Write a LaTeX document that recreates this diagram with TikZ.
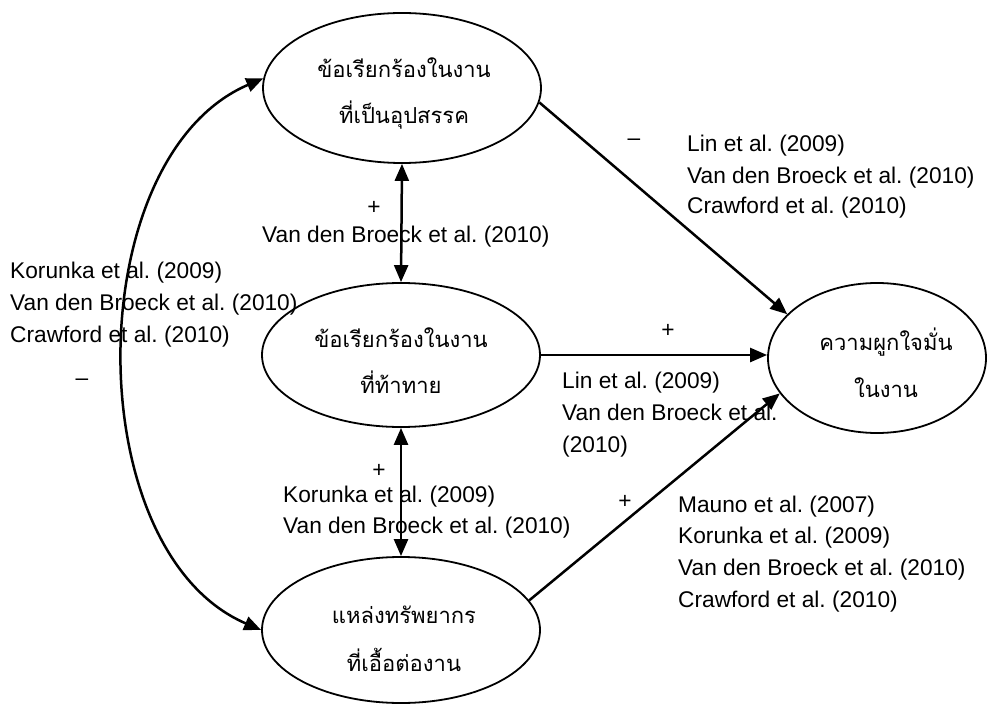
\documentclass[tikz,border=0pt]{standalone}
\usepackage{fontspec}
\setmainfont{Liberation Sans}
\newfontfamily\thaifont[Script=Thai]{Loma}
\usetikzlibrary{arrows.meta,shapes.geometric}
\frenchspacing
\tikzset{
  ell/.style={draw, ellipse, line width=1.8pt, inner sep=0pt},
  thai/.style={anchor=base, inner sep=0pt, font=\thaifont\fontsize{22}{26}\selectfont},
  lab/.style={anchor=base west, inner sep=0pt, font=\fontsize{22.7}{27}\selectfont},
  sign/.style={inner sep=0pt, font=\fontsize{22.7}{27}\selectfont},
  arr/.style={line width=2.5pt, -{Triangle[length=17pt,width=14pt]}},
  darr/.style={line width=2.5pt, {Triangle[length=17pt,width=14pt]}-{Triangle[length=17pt,width=14pt]}}
}
\begin{document}
\begin{tikzpicture}[x=1pt,y=-1pt]
\useasboundingbox (0,0) rectangle (988,706);
% ellipses
\node[ell, minimum width=278pt, minimum height=150pt] (top) at (402,88) {};
\node[ell, minimum width=278pt, minimum height=144pt] (mid) at (401,355) {};
\node[ell, minimum width=278pt, minimum height=146pt] (bot) at (401,630) {};
\node[ell, minimum width=218pt, minimum height=150pt] (eng) at (877,358) {};
% thai texts
\node[thai] (topA) at (404,78) {ข้อเรียกร้องในงาน};
\node[thai] (topB) at (404,124) {ที่เป็นอุปสรรค};
\node[thai] (midA) at (401,347) {ข้อเรียกร้องในงาน};
\node[thai] (midB) at (401,393) {ที่ท้าทาย};
\node[thai] (botA) at (404,623) {แหล่งทรัพยากร};
\node[thai] (botB) at (404,671) {ที่เอื้อต่องาน};
\node[thai] (engA) at (886,350) {ความผูกใจมั่น};
\node[thai] (engB) at (886,397) {ในงาน};
% connectors
\draw[arr] (top.-6) -- (eng.154);
\draw[arr] (mid.east) -- (eng.west |- mid.east);
\draw[arr] (bot.13) -- (eng.200);
\draw[darr] (top.south) -- (mid.north);
\draw[darr] (mid.south) -- (bot.north);
\draw[darr] (top.176) .. controls +(-184,79) and +(-184,-79) .. (bot.west);
% labels top-right
\node[sign] (s1) at (634,142) {–};
\node[lab] (l1a) at (687,152) {Lin et al. (2009)};
\node[lab] (l1b) at (687,183) {Van den Broeck et al. (2010)};
\node[lab] (l1c) at (687,213) {Crawford et al. (2010)};
% labels top-middle
\node[sign] (s2) at (374,208) {+};
\node[lab] (l2a) at (262,242) {Van den Broeck et al. (2010)};
% labels left
\node[lab] (l3a) at (10,278) {Korunka et al. (2009)};
\node[lab] (l3b) at (10,310) {Van den Broeck et al. (2010)};
\node[lab] (l3c) at (10,342) {Crawford et al. (2010)};
\node[sign] (s3) at (82,382) {–};
% labels middle-right
\node[sign] (s4) at (668,331) {+};
\node[lab] (l4a) at (562,388) {Lin et al. (2009)};
\node[lab] (l4b) at (562,420) {Van den Broeck et al.};
\node[lab] (l4c) at (562,452) {(2010)};
% labels bottom-middle
\node[sign] (s5) at (379,471) {+};
\node[lab] (l5a) at (283,502) {Korunka et al. (2009)};
\node[lab] (l5b) at (283,533) {Van den Broeck et al. (2010)};
% labels bottom-right
\node[sign] (s6) at (625,502) {+};
\node[lab] (l6a) at (678,512) {Mauno et al. (2007)};
\node[lab] (l6b) at (678,543) {Korunka et al. (2009)};
\node[lab] (l6c) at (678,575) {Van den Broeck et al. (2010)};
\node[lab] (l6d) at (678,607) {Crawford et al. (2010)};
\end{tikzpicture}
\end{document}
